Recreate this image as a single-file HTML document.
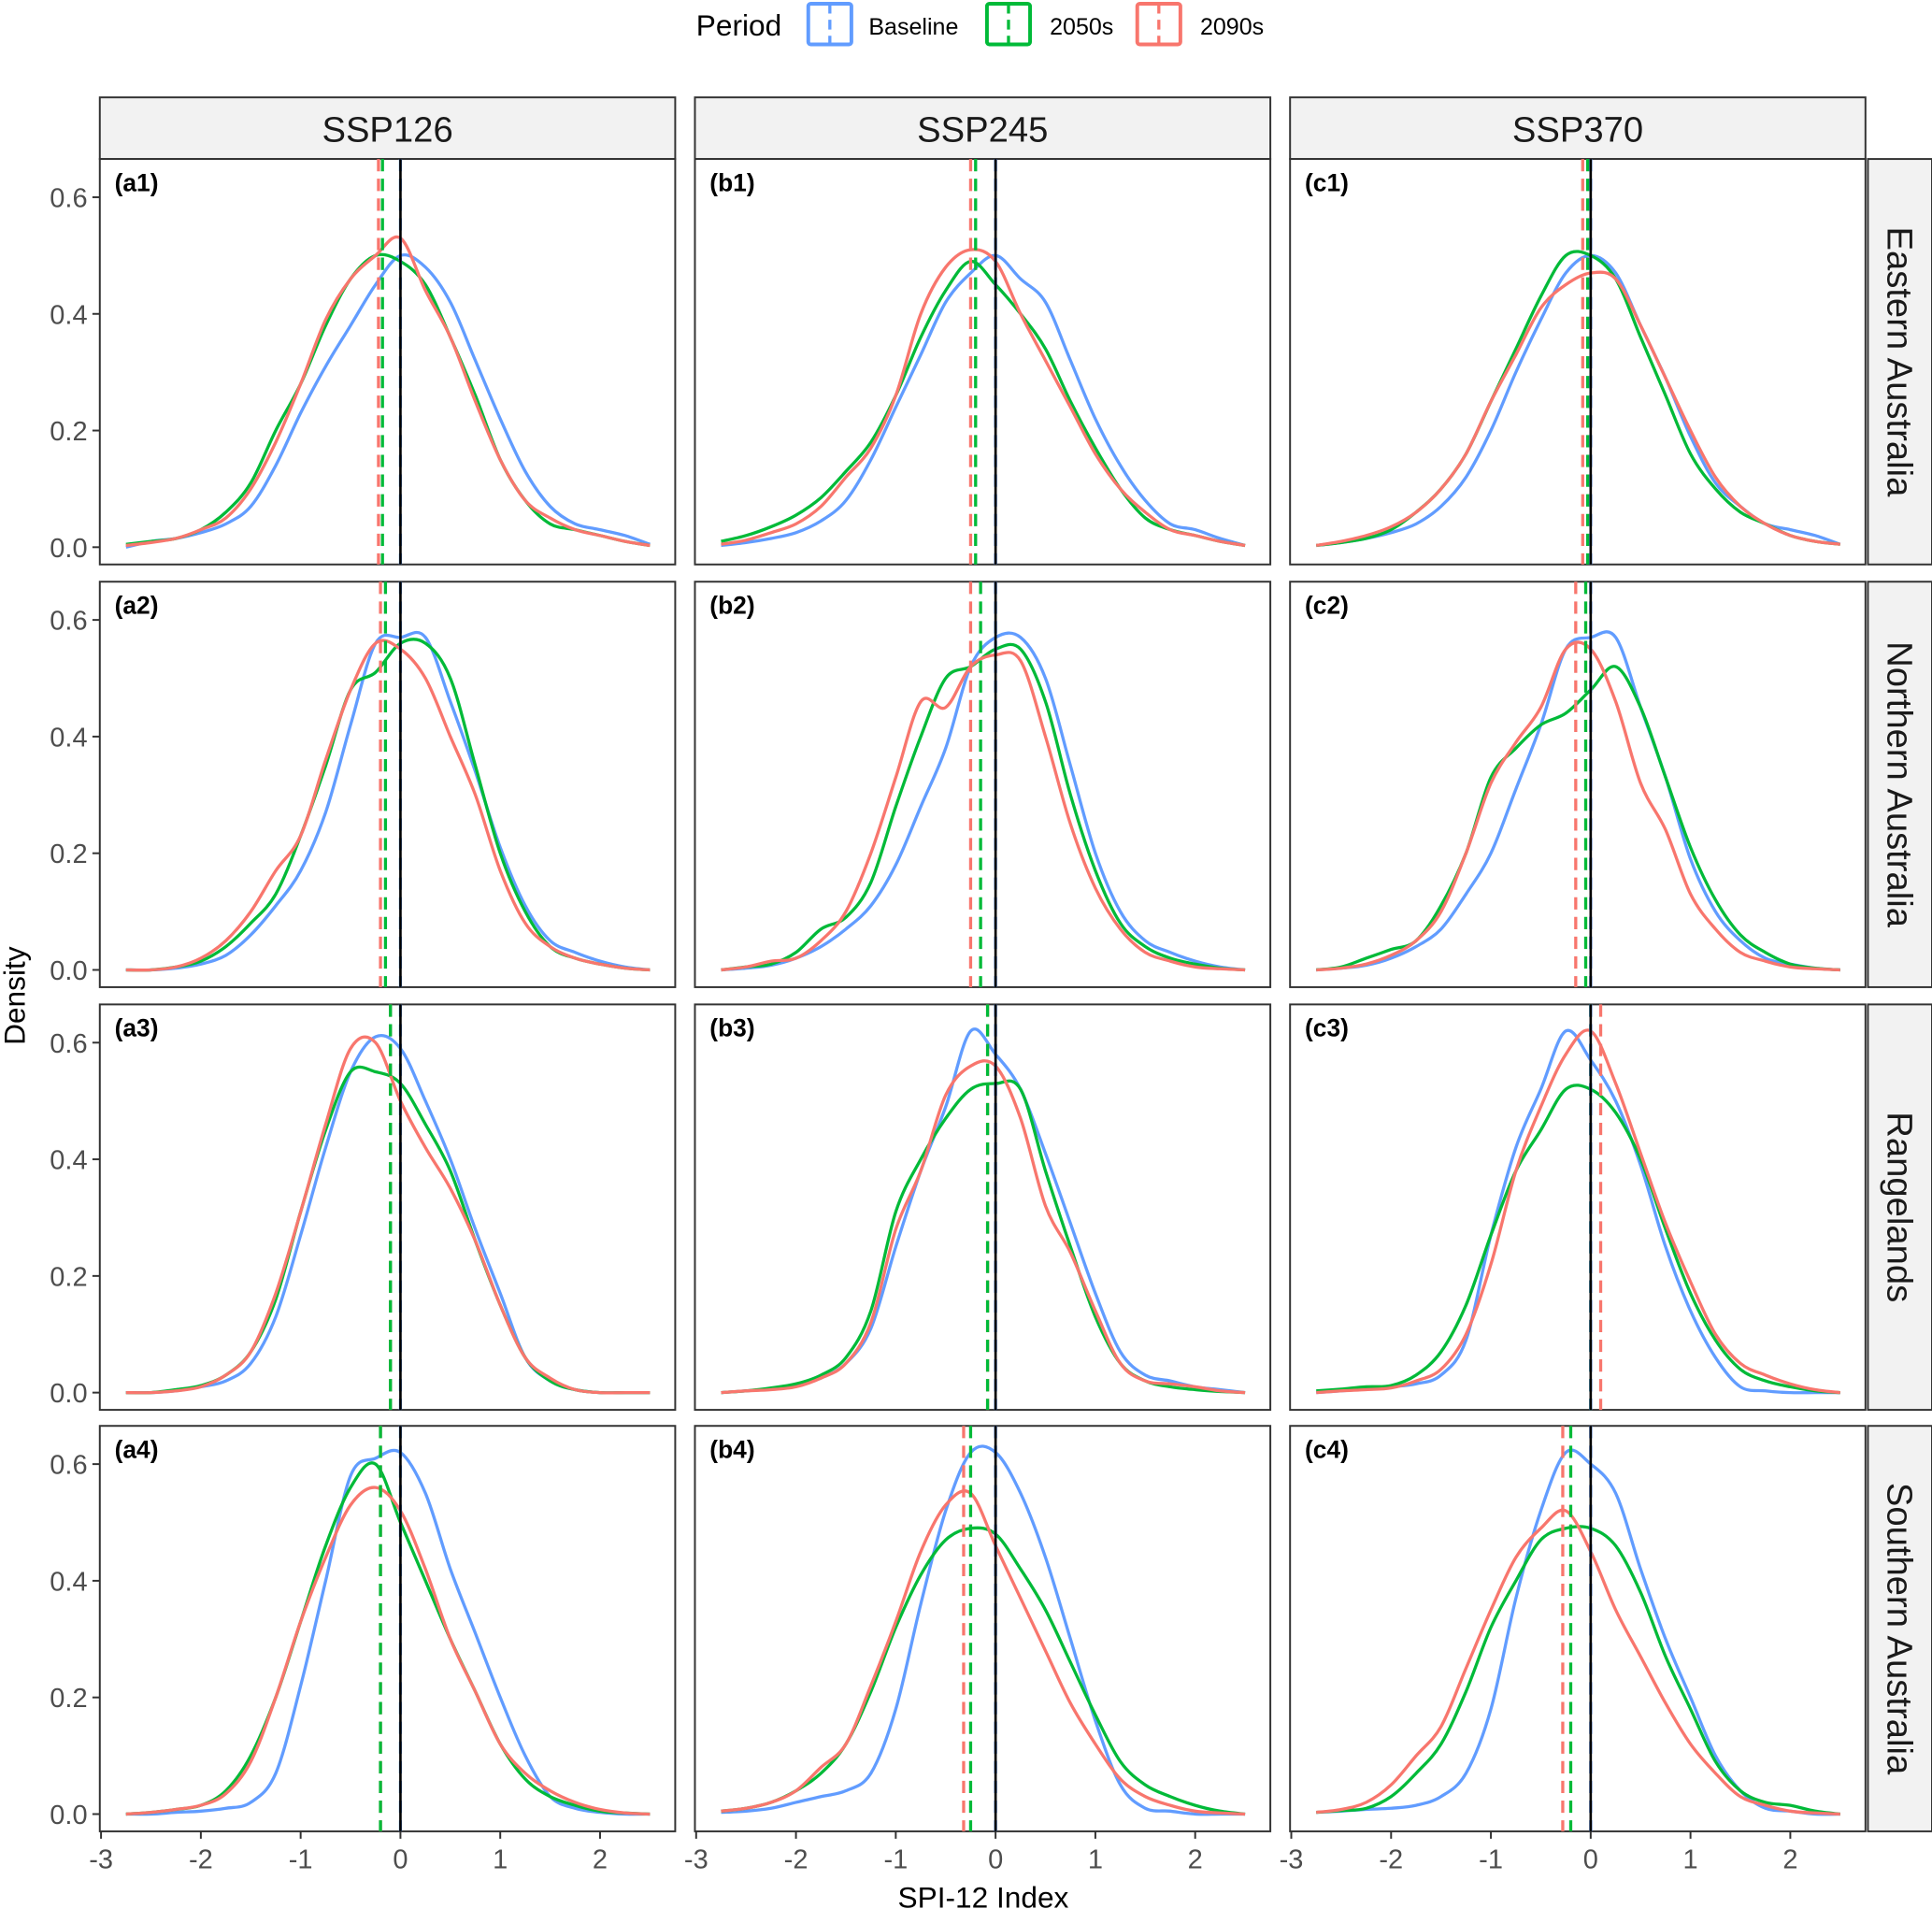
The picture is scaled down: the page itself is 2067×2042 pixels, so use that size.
<!DOCTYPE html>
<html><head><meta charset="utf-8"><style>
html,body{margin:0;padding:0;background:#fff}
svg{display:block;font-family:"Liberation Sans",Arial,sans-serif}
</style></head><body>
<svg id="chart" width="2067" height="2042" viewBox="0 0 1568 1549" xmlns="http://www.w3.org/2000/svg"></svg>
<script>
const xGrid=[-2.75,-2.5,-2.25,-2,-1.75,-1.5,-1.25,-1,-0.75,-0.5,-0.25,0,0.25,0.5,0.75,1,1.25,1.5,1.75,2,2.25,2.5];
const seriesNames=["Baseline","2050s","2090s"];
const colors=["#619CFF","#00BA38","#F8766D"];
const columns=["SSP126","SSP245","SSP370"];
const rows=["Eastern Australia","Northern Australia","Rangelands","Southern Australia"];
const xTicks=[-3,-2,-1,0,1,2];
const yTicks=[0,0.2,0.4,0.6];
const a1=[[0,0.01,0.015,0.025,0.04,0.07,0.14,0.23,0.31,0.38,0.45,0.5,0.48,0.42,0.32,0.22,0.13,0.07,0.04,0.03,0.02,0.005],[0.005,0.01,0.015,0.03,0.06,0.11,0.2,0.28,0.38,0.46,0.5,0.49,0.45,0.36,0.26,0.15,0.08,0.04,0.03,0.02,0.01,0.003],[0.003,0.008,0.015,0.03,0.05,0.1,0.18,0.28,0.39,0.46,0.5,0.53,0.44,0.36,0.25,0.15,0.08,0.05,0.03,0.02,0.01,0.003]];
const b1=[[0.003,0.008,0.015,0.025,0.045,0.08,0.15,0.24,0.33,0.42,0.47,0.5,0.46,0.42,0.32,0.22,0.14,0.08,0.04,0.03,0.015,0.003],[0.01,0.02,0.035,0.055,0.085,0.13,0.18,0.26,0.36,0.44,0.49,0.45,0.4,0.34,0.25,0.17,0.1,0.05,0.03,0.02,0.01,0.003],[0.005,0.012,0.025,0.04,0.07,0.12,0.17,0.26,0.4,0.48,0.51,0.49,0.4,0.32,0.24,0.16,0.1,0.06,0.03,0.02,0.01,0.003]];
const c1=[[0.003,0.008,0.015,0.025,0.04,0.07,0.12,0.2,0.3,0.39,0.47,0.5,0.47,0.38,0.29,0.19,0.11,0.07,0.04,0.03,0.02,0.005],[0.003,0.008,0.015,0.03,0.06,0.1,0.16,0.25,0.34,0.43,0.5,0.5,0.46,0.36,0.26,0.16,0.1,0.06,0.04,0.02,0.01,0.005],[0.003,0.01,0.02,0.035,0.06,0.1,0.16,0.25,0.33,0.41,0.45,0.47,0.46,0.38,0.29,0.2,0.12,0.07,0.04,0.02,0.01,0.005]];
const a2=[[0,0,0.003,0.01,0.025,0.06,0.11,0.17,0.27,0.42,0.56,0.57,0.57,0.46,0.34,0.21,0.11,0.05,0.03,0.015,0.005,0],[0,0,0.005,0.015,0.04,0.08,0.13,0.23,0.35,0.48,0.51,0.56,0.56,0.5,0.35,0.2,0.1,0.04,0.02,0.01,0.003,0],[0,0,0.005,0.02,0.05,0.1,0.17,0.23,0.36,0.48,0.56,0.55,0.5,0.4,0.3,0.17,0.08,0.04,0.02,0.01,0.003,0]];
const b2=[[0,0.003,0.008,0.02,0.04,0.07,0.11,0.18,0.28,0.38,0.52,0.57,0.57,0.5,0.35,0.2,0.1,0.05,0.03,0.015,0.005,0],[0,0.005,0.01,0.03,0.07,0.09,0.15,0.28,0.4,0.5,0.52,0.55,0.55,0.46,0.3,0.17,0.08,0.04,0.02,0.01,0.003,0],[0,0.005,0.015,0.02,0.05,0.1,0.2,0.33,0.46,0.45,0.52,0.54,0.53,0.4,0.25,0.14,0.07,0.03,0.015,0.005,0.002,0]];
const c2=[[0,0.003,0.008,0.02,0.04,0.07,0.13,0.2,0.31,0.42,0.55,0.57,0.57,0.45,0.33,0.19,0.1,0.05,0.02,0.01,0.003,0],[0,0.005,0.02,0.035,0.05,0.11,0.2,0.33,0.38,0.42,0.44,0.48,0.52,0.45,0.33,0.21,0.12,0.06,0.03,0.01,0.003,0],[0,0.003,0.01,0.025,0.05,0.1,0.2,0.32,0.39,0.45,0.55,0.55,0.46,0.32,0.24,0.13,0.07,0.03,0.015,0.005,0.002,0]];
const a3=[[0,0,0.003,0.01,0.02,0.05,0.13,0.27,0.42,0.55,0.61,0.59,0.5,0.4,0.28,0.17,0.06,0.02,0.005,0,0,0],[0,0,0.005,0.012,0.03,0.07,0.16,0.31,0.45,0.55,0.55,0.53,0.46,0.38,0.26,0.15,0.06,0.02,0.005,0,0,0],[0,0,0.003,0.01,0.03,0.07,0.17,0.31,0.46,0.59,0.6,0.5,0.42,0.35,0.26,0.15,0.06,0.025,0.005,0,0,0]];
const b3=[[0,0.003,0.006,0.012,0.025,0.05,0.11,0.25,0.38,0.49,0.62,0.58,0.52,0.41,0.29,0.17,0.07,0.03,0.02,0.01,0.005,0],[0,0.003,0.008,0.015,0.03,0.06,0.14,0.31,0.4,0.47,0.52,0.53,0.52,0.38,0.25,0.13,0.05,0.02,0.01,0.005,0.002,0],[0,0.003,0.005,0.01,0.025,0.05,0.12,0.28,0.38,0.51,0.56,0.56,0.47,0.32,0.24,0.14,0.05,0.02,0.015,0.01,0.003,0]];
const c3=[[0,0.003,0.006,0.01,0.015,0.03,0.09,0.27,0.42,0.52,0.62,0.57,0.5,0.39,0.25,0.14,0.06,0.01,0.003,0,0,0],[0.003,0.006,0.01,0.012,0.03,0.07,0.15,0.27,0.38,0.45,0.52,0.52,0.48,0.4,0.28,0.17,0.09,0.04,0.02,0.01,0.003,0],[0,0.003,0.005,0.008,0.02,0.04,0.1,0.22,0.38,0.49,0.58,0.62,0.53,0.41,0.29,0.19,0.1,0.05,0.03,0.015,0.005,0]];
const a4=[[0,0,0.003,0.005,0.01,0.02,0.07,0.22,0.4,0.58,0.61,0.62,0.55,0.42,0.31,0.2,0.1,0.03,0.01,0.003,0,0],[0,0.003,0.008,0.015,0.04,0.1,0.2,0.33,0.46,0.56,0.6,0.5,0.4,0.3,0.21,0.12,0.06,0.03,0.015,0.005,0.002,0],[0,0.003,0.008,0.015,0.035,0.09,0.2,0.33,0.44,0.53,0.56,0.52,0.42,0.3,0.21,0.12,0.07,0.04,0.02,0.008,0.002,0]];
const b4=[[0.003,0.005,0.01,0.02,0.03,0.04,0.07,0.18,0.36,0.52,0.62,0.62,0.55,0.44,0.3,0.16,0.05,0.01,0.005,0,0,0],[0.005,0.01,0.02,0.04,0.07,0.12,0.21,0.32,0.41,0.47,0.49,0.48,0.42,0.35,0.26,0.17,0.09,0.05,0.03,0.015,0.005,0],[0.005,0.01,0.02,0.04,0.08,0.12,0.22,0.33,0.45,0.53,0.55,0.46,0.37,0.28,0.19,0.12,0.06,0.03,0.015,0.005,0.002,0]];
const c4=[[0.003,0.005,0.008,0.01,0.015,0.03,0.07,0.18,0.37,0.52,0.62,0.6,0.55,0.42,0.3,0.2,0.1,0.04,0.01,0.005,0,0],[0.003,0.006,0.01,0.03,0.07,0.12,0.21,0.32,0.4,0.47,0.49,0.49,0.46,0.38,0.27,0.18,0.09,0.04,0.02,0.015,0.005,0],[0.003,0.008,0.02,0.05,0.1,0.15,0.25,0.35,0.44,0.49,0.52,0.45,0.35,0.27,0.19,0.12,0.07,0.03,0.015,0.005,0.002,0]];
const panelData=[[a1,b1,c1],[a2,b2,c2],[a3,b3,c3],[a4,b4,c4]];
const panelMeans=[[[0,-0.18,-0.22],[0,-0.2,-0.25],[0,-0.03,-0.08]],[[0,-0.15,-0.2],[0,-0.15,-0.25],[0,-0.05,-0.15]],[[0,-0.1,-0.1],[0,-0.08,-0.08],[0,0,0.1]],[[0,-0.2,-0.2],[0,-0.25,-0.32],[0,-0.2,-0.28]]];
const panelTags=[["(a1)","(b1)","(c1)"],["(a2)","(b2)","(c2)"],["(a3)","(b3)","(c3)"],["(a4)","(b4)","(c4)"]];

const NS="http://www.w3.org/2000/svg";
const svg=document.getElementById("chart");
function el(tag,attrs,parent,text){const e=document.createElementNS(NS,tag);for(const k in attrs)e.setAttribute(k,attrs[k]);if(text!==undefined)e.textContent=text;(parent||svg).appendChild(e);return e;}
const colL=[81,564,1047],panelW=467;
const rowT=[129,472,815,1157],panelH=329;
function sx(c,v){return colL[c]+1+(v+3)*81;}
function sy(r,v){return rowT[r]+315-v*473.3;}
function smooth(pts){let d="M"+pts[0][0]+","+pts[0][1];for(let i=0;i<pts.length-1;i++){const p0=pts[Math.max(0,i-1)],p1=pts[i],p2=pts[i+1],p3=pts[Math.min(pts.length-1,i+2)];const c1x=p1[0]+(p2[0]-p0[0])/6,c1y=p1[1]+(p2[1]-p0[1])/6,c2x=p2[0]-(p3[0]-p1[0])/6,c2y=p2[1]-(p3[1]-p1[1])/6;d+=` C${c1x.toFixed(1)},${c1y.toFixed(1)} ${c2x.toFixed(1)},${c2y.toFixed(1)} ${p2[0].toFixed(1)},${p2[1].toFixed(1)}`;}return d;}

const lg=el("g",{});

el("text",{x:565,y:29,"font-size":24,fill:"#000"},lg,"Period");
const keyX=[656,801,923],labX=[705,852,974];
for(let i=0;i<3;i++){
 const k=el("g",{},lg);
 
 el("rect",{x:keyX[i],y:3,width:35,height:33,fill:"none",stroke:colors[i],"stroke-width":3,rx:2},k);
 el("line",{x1:keyX[i]+17.5,y1:3,x2:keyX[i]+17.5,y2:36,stroke:colors[i],"stroke-width":2.5,"stroke-dasharray":"8,5"},k);
 el("text",{x:labX[i],y:28,"font-size":19,fill:"#000"},k,seriesNames[i]);
}
for(let c=0;c<3;c++){
 const g=el("g",{});
 el("rect",{x:colL[c],y:79,width:panelW,height:50,fill:"#f2f2f2",stroke:"#333","stroke-width":1.5},g);
 el("text",{x:colL[c]+panelW/2,y:115,"font-size":29,"text-anchor":"middle",fill:"#1a1a1a"},g,columns[c]);
}
for(let r=0;r<4;r++){
 const g=el("g",{});
 el("rect",{x:1516,y:rowT[r],width:52,height:panelH,fill:"#f2f2f2",stroke:"#333","stroke-width":1.5},g);
 const cx=1532,cy=rowT[r]+panelH/2;
 el("text",{x:cx,y:cy,"font-size":29,"text-anchor":"middle",fill:"#1a1a1a",transform:`rotate(90 ${cx} ${cy})`},g,rows[r]);
}
for(let r=0;r<4;r++)for(let c=0;c<3;c++){
 const g=el("g",{});
 el("rect",{x:colL[c],y:rowT[r],width:panelW,height:panelH,fill:"#fff",stroke:"#333","stroke-width":1.5},g);
 const data=panelData[r][c];
 for(let s=0;s<3;s++){
  const pts=xGrid.map((x,i)=>[sx(c,x),sy(r,data[s][i])]);
  const p=el("path",{d:smooth(pts),fill:"none",stroke:colors[s],"stroke-width":2.5},g);
  
 }
 for(let s=2;s>=0;s--){
  const mx=sx(c,panelMeans[r][c][s]);
  const l=el("line",{x1:mx,y1:rowT[r],x2:mx,y2:rowT[r]+panelH,stroke:colors[s],"stroke-width":2.5,"stroke-dasharray":"10,6"},g);
  
 }
 const zl=el("line",{x1:sx(c,0),y1:rowT[r],x2:sx(c,0),y2:rowT[r]+panelH,stroke:"#000","stroke-width":2},g);
 
 el("text",{x:colL[c]+12,y:rowT[r]+26,"font-size":20,"font-weight":"bold",fill:"#000"},g,panelTags[r][c]);
 if(c===0){for(const t of yTicks){const y=sy(r,t);el("line",{x1:colL[0]-6,y1:y,x2:colL[0],y2:y,stroke:"#333","stroke-width":1.5},g);el("text",{x:colL[0]-10,y:y+8,"font-size":22,"text-anchor":"end",fill:"#4d4d4d"},g,t.toFixed(1));}}
 if(r===3){for(const t of xTicks){const x=sx(c,t);el("line",{x1:x,y1:rowT[3]+panelH,x2:x,y2:rowT[3]+panelH+6,stroke:"#333","stroke-width":1.5},g);el("text",{x:x,y:rowT[3]+panelH+30,"font-size":22,"text-anchor":"middle",fill:"#4d4d4d"},g,String(t));}}
}
const xt=el("text",{x:798,y:1548,"font-size":24,"text-anchor":"middle",fill:"#000"},svg,"SPI-12 Index");

const yt=el("text",{x:20,y:808,"font-size":24,"text-anchor":"middle",fill:"#000",transform:"rotate(-90 20 808)"},svg,"Density");

</script>
</body></html>
